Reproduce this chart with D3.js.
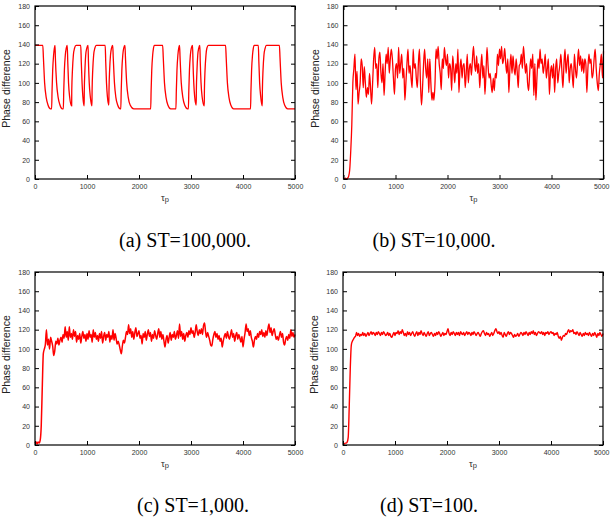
<!doctype html>
<html>
<head>
<script src="https://cdn.jsdelivr.net/npm/d3@7"></script>
<style>
body { margin: 0; background: #fff; }
svg text { font-family: "Liberation Sans", Arial, sans-serif; }
</style>
</head>
<body>
<div id="chart"></div>
<script>
// axis ticks and captions
var xTicks = [0, 1000, 2000, 3000, 4000, 5000];
var yTicks = [0, 20, 40, 60, 80, 100, 120, 140, 160, 180];
var captions = ["(a) ST=100,000.", "(b) ST=10,000.", "(c) ST=1,000.", "(d) ST=100."];

// (a) ST=100,000 : [tau, phase] points
var phaseA = [
  [0,139],[150,139],[162,126],[185,100],[215,85],[250,77],[300,73],
  [320,73],[328,92],[340,113],[358,129],[372,136],[385,139],
  [392,126],[415,100],[445,85],[480,77],[525,73],
  [545,73],[553,92],[565,113],[583,129],[600,136],[620,139],
  [630,122],[645,100],[665,86],[705,76],
  [707,92],[720,113],[738,129],[760,136],[790,139],
  [880,139],[890,122],[905,100],[920,86],[945,76],
  [948,92],[960,113],[975,129],[995,136],[1020,139],
  [1028,122],[1043,100],[1063,86],[1095,76],
  [1098,92],[1110,113],[1128,129],[1150,136],[1180,139],
  [1350,139],[1360,122],[1375,100],[1392,86],[1420,77],
  [1423,92],[1435,113],[1452,129],[1470,136],[1495,139],
  [1505,126],[1528,100],[1555,85],[1590,77],[1640,73],
  [1650,73],[1658,92],[1670,113],[1688,129],[1705,136],[1730,139],
  [1740,126],[1763,100],[1793,85],[1830,77],[1900,73],
  [2225,73],[2233,92],[2245,113],[2263,129],[2278,136],[2295,139],
  [2455,139],[2467,126],[2490,100],[2520,85],[2555,77],[2610,73],
  [2710,73],[2718,92],[2730,113],[2748,129],[2763,136],[2780,139],
  [2790,126],[2813,100],[2843,85],[2878,77],[2935,73],
  [2950,73],[2958,92],[2970,113],[2988,129],[3005,136],[3030,139],
  [3038,122],[3053,100],[3070,86],[3100,77],
  [3103,92],[3115,113],[3130,129],[3148,136],[3170,139],
  [3178,122],[3193,100],[3213,86],[3255,76],
  [3258,92],[3270,113],[3288,129],[3305,136],[3335,139],
  [3665,139],[3677,126],[3700,100],[3730,85],[3765,77],[3820,73],
  [4145,73],[4153,92],[4165,113],[4183,129],[4198,136],[4215,139],
  [4295,139],[4305,122],[4320,100],[4340,86],[4370,76],
  [4373,92],[4385,113],[4403,129],[4425,136],[4450,139],
  [4700,139],[4712,126],[4735,100],[4765,85],[4800,77],[4860,73],
  [5000,73]
];

// (b)-(d): one value every stepT units of tau
var stepT = 20;
var phaseB = [
  1,0,1,0,1,3,10,30,57,100,
  115,130,93,112,78,90,100,125,118,95,
  117,100,85,95,88,110,95,78,100,125,
  137,115,120,95,125,132,110,100,120,87,
  110,130,120,137,110,125,135,125,105,88,
  115,120,105,137,110,120,130,105,115,82,
  100,120,135,110,118,105,95,135,115,120,
  105,95,120,135,100,77,95,120,135,115,
  105,125,90,125,100,82,90,82,100,135,
  125,138,120,110,93,125,115,137,125,118,
  130,105,120,115,92,128,115,100,120,110,
  135,90,115,125,105,118,120,95,110,130,
  100,115,120,108,125,138,120,112,128,110,
  120,95,115,130,105,118,88,110,137,118,
  105,110,98,90,105,92,110,105,130,118,
  135,125,138,120,125,136,120,110,125,90,
  115,130,110,128,115,108,125,112,95,118,
  120,130,115,138,125,110,120,100,92,110,
  125,115,130,87,120,82,105,125,115,135,
  120,125,110,118,130,105,115,125,88,110,
  118,105,120,90,115,125,100,110,118,130,
  112,95,120,135,110,122,130,100,115,120,
  108,95,130,115,105,120,135,118,128,112,
  125,110,125,120,90,115,130,120,125,105,
  110,125,135,115,100,92,110,120,130,105,
  133
];
var phaseC = [
  2,3,1,3,2,5,20,60,95,100,
  105,120,104,110,100,112,108,103,93,98,
  108,105,111,104,109,112,107,115,111,123,
  112,118,109,123,112,116,110,120,113,118,
  107,114,110,116,106,113,118,111,115,108,
  116,110,119,112,115,107,120,112,117,110,
  114,108,116,111,118,106,113,117,109,115,
  112,118,107,114,110,120,109,116,111,105,
  108,104,99,95,103,109,106,112,118,115,
  125,116,121,112,118,110,117,122,113,116,
  119,111,114,105,116,112,118,109,115,120,
  113,117,108,115,111,119,114,110,116,121,
  112,118,110,115,108,102,110,114,106,112,
  117,109,115,112,118,110,114,119,111,126,
  113,118,110,116,108,114,117,112,119,115,
  122,116,119,112,117,125,118,114,120,116,
  121,115,124,127,118,112,117,113,109,104,
  103,110,115,118,112,116,110,114,108,111,
  102,108,113,116,111,118,113,110,115,120,
  112,116,108,114,117,110,115,111,107,113,
  102,110,117,126,118,121,114,119,112,108,
  102,109,113,110,116,112,118,115,120,113,
  117,112,119,114,121,126,117,122,114,118,
  121,115,110,113,109,114,118,112,116,107,
  104,110,113,109,115,111,120,113,117,112,
  115
];
var phaseD = [
  1,1,2,2,3,8,40,80,104,108,
  110,112,113,117,114,116,113,115,114,117,
  114,116,113,115,117,114,116,118,115,117,
  116,114,117,115,118,116,114,117,115,118,
  116,114,115,117,114,116,113,112,115,117,
  114,117,116,119,115,118,116,120,117,114,
  116,113,118,115,117,114,116,118,115,113,
  116,118,114,117,115,119,116,114,117,115,
  113,116,118,114,116,117,115,113,116,114,
  117,115,118,116,113,115,117,114,116,115,
  118,121,116,114,117,115,118,116,114,117,
  115,117,114,118,116,115,117,114,116,118,
  115,117,116,114,117,115,118,116,114,116,
  117,115,113,116,118,119,116,114,117,115,
  116,113,115,117,114,116,119,121,118,116,
  118,115,117,114,112,117,115,113,116,118,
  115,117,116,114,112,115,113,114,116,113,
  115,117,116,114,117,115,118,116,114,117,
  115,118,116,119,115,117,114,116,118,117,
  116,118,115,117,114,117,116,118,115,117,
  118,116,117,114,116,115,117,113,111,113,
  109,112,114,113,116,115,118,120,117,119,
  118,120,116,117,115,118,116,114,117,115,
  113,116,114,117,115,116,114,117,115,113,
  116,114,117,115,112,116,114,117,115,113,
  116
];

function toPairs(vals) {
  return vals.map(function(v, i) { return [i * stepT, v]; });
}

var W = 260, H = 173;
var panels = [
  {data: phaseA, left: 35, top: 6, capX: 185, capY: 247, cap: captions[0], sw: 1.3},
  {data: toPairs(phaseB), left: 343.5, top: 6, capX: 434, capY: 247, cap: captions[1], sw: 1.3},
  {data: toPairs(phaseC), left: 35, top: 272, capX: 193, capY: 512, cap: captions[2], sw: 1.5},
  {data: toPairs(phaseD), left: 343, top: 272, capX: 429, capY: 512, cap: captions[3], sw: 1.4}
];

var svg = d3.select("#chart").append("svg")
  .attr("width", 610).attr("height", 519);

panels.forEach(function(p) {
  var x = d3.scaleLinear().domain([0, 5000]).range([0, W]);
  var y = d3.scaleLinear().domain([0, 180]).range([H, 0]);

  var g = svg.append("g").attr("transform", "translate(" + p.left + "," + p.top + ")");

  var line = d3.line()
    .x(function(d) { return x(d[0]); })
    .y(function(d) { return y(d[1]); })
    .curve(d3.curveMonotoneX);

  g.append("path")
    .datum(p.data)
    .attr("d", line)
    .attr("fill", "none")
    .attr("stroke", "#ff0000")
    .attr("stroke-width", p.sw)
    .attr("stroke-linejoin", "round");

  // axes with inward ticks, mirrored on top and right
  var axes = [
    {a: d3.axisBottom(x).tickValues(xTicks).tickFormat(d3.format("d")).tickSizeInner(-4).tickSizeOuter(0).tickPadding(5), t: "translate(0," + H + ")"},
    {a: d3.axisLeft(y).tickValues(yTicks).tickFormat(d3.format("d")).tickSizeInner(-4).tickSizeOuter(0).tickPadding(5), t: null},
    {a: d3.axisTop(x).tickValues(xTicks).tickSizeInner(-4).tickSizeOuter(0).tickFormat(""), t: null},
    {a: d3.axisRight(y).tickValues(yTicks).tickSizeInner(-4).tickSizeOuter(0).tickFormat(""), t: "translate(" + W + ",0)"}
  ];
  axes.forEach(function(ax) {
    var ag = g.append("g").call(ax.a);
    if (ax.t) ag.attr("transform", ax.t);
    ag.select(".domain").remove();
    ag.selectAll(".tick line").attr("stroke", "#000");
    ag.selectAll(".tick text").attr("font-size", 7).attr("fill", "#333")
      .style("font-family", "'Liberation Sans', Arial, sans-serif");
  });

  // keep the last x label inside the page on the right-hand panels
  if (p.left + W > 600) {
    g.selectAll(".tick text")
      .filter(function(d) { return d === 5000; })
      .attr("text-anchor", "end")
      .attr("dx", 609 - p.left - W);
  }

  g.append("rect")
    .attr("width", W).attr("height", H)
    .attr("fill", "none").attr("stroke", "#000").attr("stroke-width", 1.2);

  g.append("text")
    .attr("transform", "translate(-25," + (H / 2 - 4) + ") rotate(-90)")
    .attr("text-anchor", "middle")
    .attr("font-size", 10.5)
    .attr("fill", "#222")
    .text("Phase difference");

  var xl = g.append("text")
    .attr("x", W / 2).attr("y", H + 22)
    .attr("text-anchor", "middle")
    .attr("font-size", 9.5)
    .attr("fill", "#333");
  xl.append("tspan").text("\u03c4");
  xl.append("tspan").attr("font-size", 7.5).attr("dy", 1).text("p");

  svg.append("text")
    .attr("x", p.capX).attr("y", p.capY)
    .attr("text-anchor", "middle")
    .style("font-family", "'Liberation Serif', 'Times New Roman', serif")
    .attr("font-size", 20)
    .attr("fill", "#000")
    .text(p.cap);
});
</script>
</body>
</html>
